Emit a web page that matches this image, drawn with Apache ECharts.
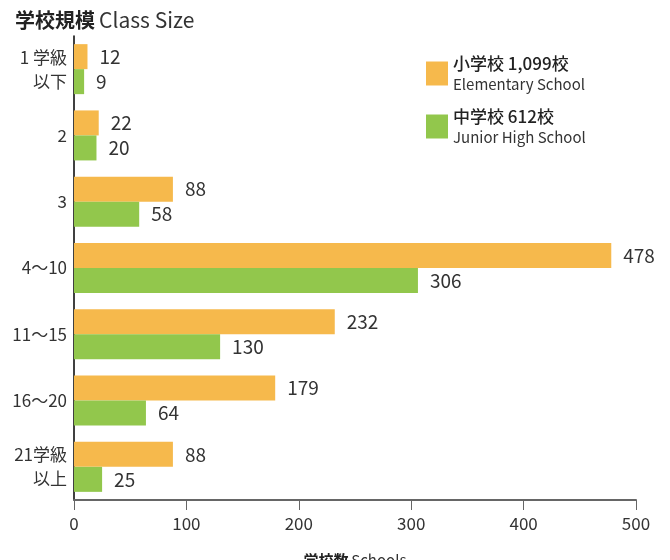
<!DOCTYPE html>
<html>
<head>
<meta charset="utf-8">
<script src="https://cdn.jsdelivr.net/npm/echarts@6/dist/echarts.min.js"></script>
<style>
  html, body { margin: 0; padding: 0; background: #fff; }
  #main { width: 670px; height: 560px; }
</style>
</head>
<body>
<div id="main"></div>
<script>
var categories = ['1 学級\n以下', '2', '3', '4～10', '11～15', '16～20', '21学級\n以上'];
var elementary = [12, 22, 88, 478, 232, 179, 88];
var juniorHigh = [9, 20, 58, 306, 130, 64, 25];
var xTicks = [0, 100, 200, 300, 400, 500];

var FONT = '"Noto Sans CJK JP", "Noto Sans", sans-serif';
var chart = echarts.init(document.getElementById('main'));

var option = {
  textStyle: { fontFamily: FONT },
  animation: false,
  title: {
    text: '{b|学校規模} {n|Class Size}',
    left: 10,
    top: 5,
    textStyle: {
      rich: {
        b: { fontFamily: FONT, fontSize: 20, fontWeight: 'bold', color: '#222' },
        n: { fontFamily: FONT, fontSize: 21, fontWeight: 'normal', color: '#333' }
      }
    }
  },
  legend: {
    orient: 'vertical',
    left: 421,
    top: 50,
    itemWidth: 22,
    itemHeight: 24,
    itemGap: 16,
    icon: 'rect',
    data: ['小学校', '中学校'],
    formatter: function (name) {
      if (name === '小学校') return '{a|小学校 1,099校}\n{b|Elementary School}';
      return '{a|中学校 612校}\n{b|Junior High School}';
    },
    textStyle: {
      rich: {
        a: { fontFamily: FONT, fontSize: 17, fontWeight: 500, color: '#222', lineHeight: 22 },
        b: { fontFamily: FONT, fontSize: 15, color: '#333', lineHeight: 20 }
      }
    }
  },
  grid: { left: 74, right: 34, top: 36, bottom: 60, outerBoundsMode: 'none' },
  xAxis: {
    type: 'value',
    min: 0,
    max: 500,
    interval: 100,
    name: '{b|学校数} {n|Schools}',
    nameLocation: 'middle',
    nameGap: 53,
    nameTextStyle: {
      rich: {
        b: { fontFamily: FONT, fontSize: 15, fontWeight: 'bold', color: '#222' },
        n: { fontFamily: FONT, fontSize: 15, color: '#333' }
      }
    },
    axisLine: { show: true, lineStyle: { color: '#666', width: 2 } },
    axisTick: { show: true, length: 10, lineStyle: { color: '#666' } },
    axisLabel: {
      fontFamily: FONT, fontSize: 17, color: '#333', margin: 15,
      formatter: function (v) { return xTicks.indexOf(v) >= 0 ? String(v) : ''; }
    },
    splitLine: { show: false }
  },
  yAxis: {
    type: 'category',
    inverse: true,
    data: categories,
    axisLine: { show: true, lineStyle: { color: '#000', width: 1.5 } },
    axisTick: { show: false },
    axisLabel: { fontFamily: FONT, fontSize: 17, color: '#333', margin: 7, lineHeight: 24, align: 'right' }
  },
  series: [
    {
      name: '小学校',
      type: 'bar',
      data: elementary,
      barWidth: 25,
      barGap: '0%',
      itemStyle: { color: '#F6B94C' },
      label: { show: true, position: 'right', distance: 12, fontFamily: FONT, fontSize: 19, color: '#333' }
    },
    {
      name: '中学校',
      type: 'bar',
      data: juniorHigh,
      barWidth: 25,
      barGap: '0%',
      itemStyle: { color: '#92C74C' },
      label: { show: true, position: 'right', distance: 12, fontFamily: FONT, fontSize: 19, color: '#333' }
    }
  ]
};

chart.setOption(option);
</script>
</body>
</html>
